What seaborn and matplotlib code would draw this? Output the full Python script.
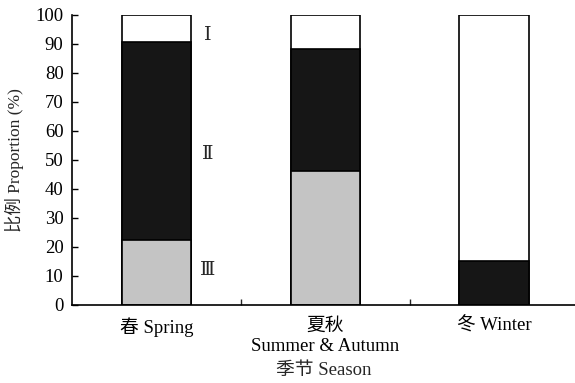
import matplotlib
matplotlib.use("Agg")
import matplotlib.pyplot as plt
import seaborn as sns
import pandas as pd
import numpy as np

seasons = ["春 Spring", "夏秋\nSummer & Autumn", "冬 Winter"]
class_III = [22.5, 46.2, 0.0]
class_II = [68.0, 42.0, 15.0]
class_I = [9.5, 11.8, 85.0]
segment_labels = ["Ⅰ", "Ⅱ", "Ⅲ"]

sns.set_theme(style="ticks")
fam = ["Liberation Serif", "Noto Sans CJK SC", "DejaVu Sans"]
plt.rcParams["font.family"] = fam

fig = plt.figure(figsize=(5.75, 3.83), dpi=100)
ax = fig.add_axes([0.125, 0.204, 0.875, 0.757])

df = pd.DataFrame({
    "season": seasons,
    "III": class_III,
    "II": class_II,
    "I": class_I,
})
df["cum_II"] = df["III"] + df["II"]
df["cum_I"] = df["cum_II"] + df["I"]

w = 0.41
sns.barplot(data=df, x="season", y="cum_I", color="white", edgecolor="black",
            linewidth=1.2, width=w, ax=ax, saturation=1)
sns.barplot(data=df, x="season", y="cum_II", color="#161616", edgecolor="black",
            linewidth=1.2, width=w, ax=ax, saturation=1)
sns.barplot(data=df, x="season", y="III", color="#c4c4c4", edgecolor="black",
            linewidth=1.2, width=w, ax=ax, saturation=1)

# segment labels beside first bar
lab_y = [93, 52, 12]
for t, yv in zip(segment_labels, lab_y):
    ax.text(0.305, yv, t, fontsize=14, ha="center", va="center",
            family=["DejaVu Serif", "Noto Sans CJK SC"])

ax.set_xlim(-0.5, 2.48)
ax.set_ylim(0, 100)
ax.set_yticks(np.arange(0, 101, 10))
ax.tick_params(axis="y", direction="in", length=4, width=1, labelsize=13.5, pad=6, colors="black")
ax.tick_params(axis="x", which="major", length=0, labelsize=13.5, pad=9, colors="black")
ax.set_xticks([0.5, 1.5], minor=True)
ax.tick_params(axis="x", which="minor", direction="in", length=4, width=1)
for lbl in ax.get_xticklabels():
    lbl.set_linespacing(1.3)
sns.despine(ax=ax, top=True, right=True)
for s in ["left", "bottom"]:
    ax.spines[s].set_linewidth(1.2)
    ax.spines[s].set_color("black")

ax.set_xlabel("季节 Season", fontsize=13.5, labelpad=5)
ax.set_ylabel("比例 Proportion (%)", fontsize=12.5, labelpad=8)

fig.savefig("out.png", dpi=100)
